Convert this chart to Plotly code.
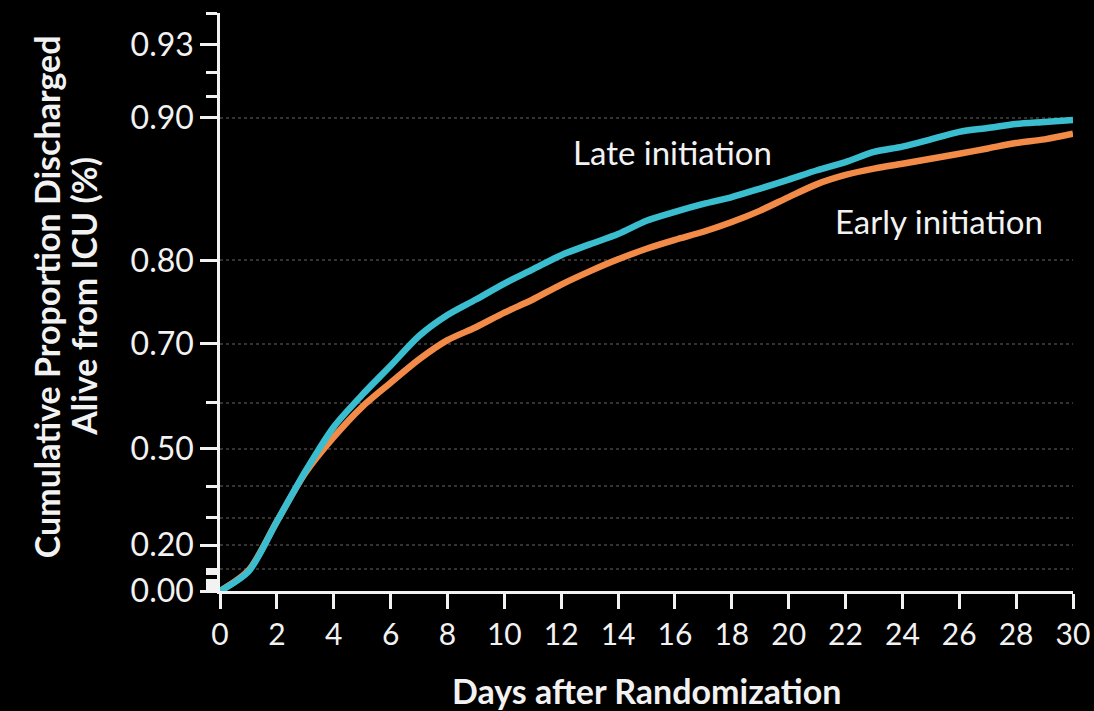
import numpy as np
import plotly.graph_objects as go

# Days after randomization
days = list(range(0, 31))

# Cumulative proportion discharged alive from ICU
late_initiation = [0.000, 0.090, 0.287, 0.441, 0.550, 0.615, 0.666, 0.711, 0.739, 0.758,
                   0.776, 0.791, 0.805, 0.815, 0.824, 0.835, 0.842, 0.848, 0.853, 0.859,
                   0.865, 0.871, 0.876, 0.882, 0.885, 0.889, 0.893, 0.895, 0.897, 0.898,
                   0.899]
early_initiation = [0.000, 0.095, 0.287, 0.437, 0.527, 0.592, 0.637, 0.676, 0.705, 0.723,
                    0.742, 0.758, 0.775, 0.789, 0.801, 0.811, 0.819, 0.826, 0.834, 0.843,
                    0.853, 0.862, 0.868, 0.872, 0.875, 0.878, 0.881, 0.884, 0.887, 0.889,
                    0.892]

# Axis ticks (proportions)
major_ticks = [0.00, 0.20, 0.50, 0.70, 0.80, 0.90, 0.93]
major_labels = ["0.00", "0.20", "0.50", "0.70", "0.80", "0.90", "0.93"]
minor_ticks = [0.01, 0.02, 0.03, 0.04, 0.05, 0.08, 0.09, 0.10, 0.30, 0.40, 0.60, 0.91, 0.92, 0.94]
grid_levels = [0.10, 0.20, 0.30, 0.40, 0.50, 0.60, 0.70, 0.80, 0.90]
x_ticks = list(range(0, 31, 2))


def tr(p):
    """Complementary log transform used for the vertical scale."""
    return (-np.log(1.0 - np.asarray(p, dtype=float))).tolist()


FONT = "Lato"
CYAN = "#3bbdd0"
ORANGE = "#f28a48"
WHITE = "#f2f2f2"

fig = go.Figure()

fig.add_trace(go.Scatter(x=days, y=tr(early_initiation), mode="lines",
                         line=dict(color=ORANGE, width=6.5, shape="spline", smoothing=0.8),
                         name="Early initiation", cliponaxis=False))
fig.add_trace(go.Scatter(x=days, y=tr(late_initiation), mode="lines",
                         line=dict(color=CYAN, width=6.5, shape="spline", smoothing=0.8),
                         name="Late initiation", cliponaxis=False))

# invisible trace that activates the grid axis
fig.add_trace(go.Scatter(x=[0], y=[0], yaxis="y2", mode="markers",
                         marker=dict(opacity=0), showlegend=False, hoverinfo="skip"))

y_top = tr([0.94])[0]

fig.update_layout(
    width=1094, height=711,
    paper_bgcolor="black", plot_bgcolor="black",
    margin=dict(l=220, r=21, t=13, b=120, autoexpand=False),
    showlegend=False,
    font=dict(family=FONT, color=WHITE),
    xaxis=dict(
        range=[0, 30], tickvals=x_ticks, ticktext=[str(v) for v in x_ticks],
        showgrid=False, zeroline=False,
        showline=True, linecolor=WHITE, linewidth=2.5,
        ticks="outside", ticklen=15, tickwidth=2.5, tickcolor=WHITE,
        tickfont=dict(size=30, color=WHITE, family=FONT),
    ),
    yaxis=dict(
        range=[0, y_top], tickvals=tr(major_ticks), ticktext=major_labels,
        showgrid=False, zeroline=False,
        showline=True, linecolor=WHITE, linewidth=2.5,
        ticks="outside", ticklen=17, tickwidth=2.5, tickcolor=WHITE,
        tickfont=dict(size=32, color=WHITE, family=FONT),
        ticklabelstandoff=0,
        minor=dict(tickvals=tr(minor_ticks), ticks="outside", ticklen=11,
                   tickwidth=2.5, tickcolor=WHITE, showgrid=False),
    ),
    yaxis2=dict(
        overlaying="y", range=[0, y_top], tickvals=tr(grid_levels),
        showticklabels=False, ticks="", showline=False, zeroline=False,
        showgrid=True, gridcolor="#363232", gridwidth=2, griddash="dot",
    ),
)

# axis titles
fig.add_annotation(xref="paper", yref="paper", x=0.5, y=-0.173, yanchor="middle",
                   text="<b>Days after Randomization</b>", showarrow=False,
                   font=dict(size=34, color=WHITE, family=FONT))
fig.add_annotation(xref="paper", yref="paper", x=-0.204, y=0.51, xanchor="center",
                   yanchor="middle", textangle=-90, showarrow=False,
                   text="<b>Cumulative Proportion Discharged</b>",
                   font=dict(size=34, color=WHITE, family=FONT))
fig.add_annotation(xref="paper", yref="paper", x=-0.160, y=0.51, xanchor="center",
                   yanchor="middle", textangle=-90, showarrow=False,
                   text="<b>Alive from ICU (%)</b>",
                   font=dict(size=34, color=WHITE, family=FONT))

# curve labels
fig.add_annotation(x=15.9, y=tr([0.882])[0], text="Late initiation", showarrow=False,
                   font=dict(size=33, color=WHITE, family=FONT))
fig.add_annotation(x=25.3, y=tr([0.835])[0], text="Early initiation", showarrow=False,
                   font=dict(size=33, color=WHITE, family=FONT))

fig.write_html("out.html")
